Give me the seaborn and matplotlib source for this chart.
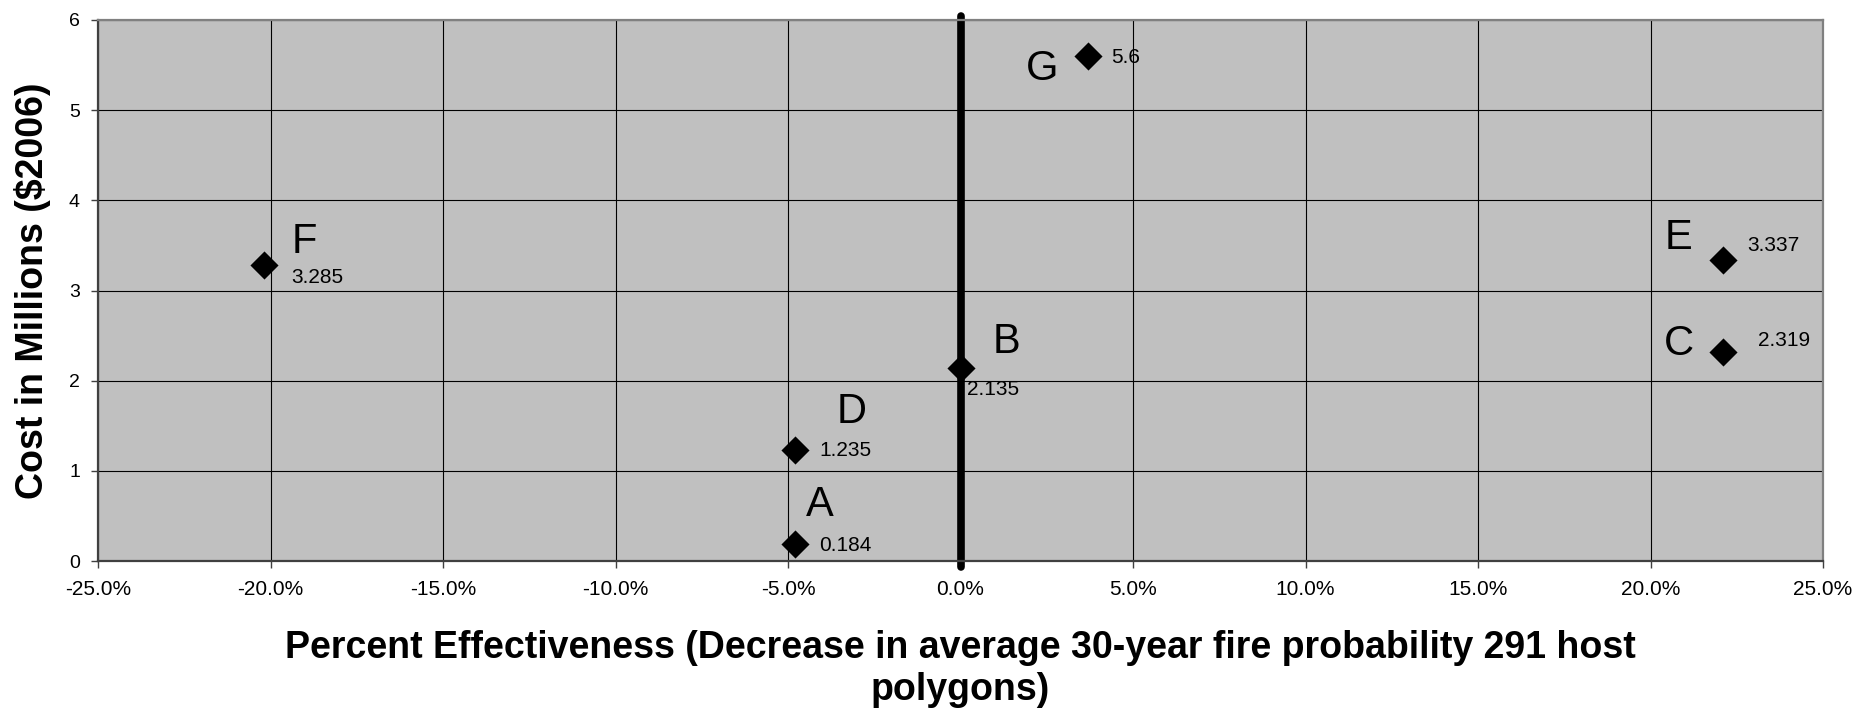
import matplotlib
matplotlib.use("Agg")
import matplotlib.pyplot as plt
import seaborn as sns
import pandas as pd
from matplotlib.ticker import FuncFormatter, MultipleLocator

# ---- data ----
labels = ["A", "B", "C", "D", "E", "F", "G"]
effectiveness = [-4.8, 0.0, 22.1, -4.8, 22.1, -20.2, 3.7]   # percent
cost = [0.184, 2.135, 2.319, 1.235, 3.337, 3.285, 5.6]       # millions $2006
value_texts = ["0.184", "2.135", "2.319", "1.235", "3.337", "3.285", "5.6"]

x_ticks = [-25, -20, -15, -10, -5, 0, 5, 10, 15, 20, 25]
y_ticks = [0, 1, 2, 3, 4, 5, 6]

# ---- label placement (pixel offsets, style only) ----
letter_off = {"A": (11, 28, "left"), "B": (32, 15, "left"), "C": (-29, -3, "right"),
              "D": (42, 27, "left"), "E": (-31, 11, "right"), "F": (28, 12, "left"),
              "G": (-30, -24, "right")}
value_off = {"A": (24, -7), "B": (6, -27), "C": (35, 6), "D": (24, -6),
             "E": (24, 9), "F": (28, -18), "G": (23, -7)}

df = pd.DataFrame({"label": labels, "eff": effectiveness, "cost": cost, "txt": value_texts})

sns.set_theme(style="white")
plt.rcParams["font.family"] = ["Liberation Sans", "DejaVu Sans"]
plt.rcParams["text.color"] = "black"
plt.rcParams["axes.labelcolor"] = "black"
plt.rcParams["xtick.color"] = "black"
plt.rcParams["ytick.color"] = "black"

fig = plt.figure(figsize=(18.6, 7.13), dpi=100)
ax = fig.add_axes([98 / 1860, 1 - 561 / 713, (1823 - 98) / 1860, (561 - 20) / 713])
ax.set_facecolor("#C0C0C0")

ax.set_xlim(x_ticks[0], x_ticks[-1])
ax.set_ylim(y_ticks[0], y_ticks[-1])
ax.xaxis.set_major_locator(MultipleLocator(5))
ax.yaxis.set_major_locator(MultipleLocator(1))
ax.xaxis.set_major_formatter(FuncFormatter(lambda v, p: f"{v:.1f}%"))
ax.yaxis.set_major_formatter(FuncFormatter(lambda v, p: f"{v:g}"))

ax.grid(True, color="#000000", linewidth=0.8)
ax.set_axisbelow(True)

# thick reference line at zero effectiveness
ax.axvline(0, ymin=-0.012, ymax=1.008, color="black", linewidth=5.5, clip_on=False, zorder=2)

sns.scatterplot(data=df, x="eff", y="cost", marker="D", s=205, color="black",
                linewidth=0, ax=ax, zorder=3, legend=False)

for _, r in df.iterrows():
    dx, dy, ha = letter_off[r["label"]]
    ax.annotate(r["label"], xy=(r["eff"], r["cost"]), xytext=(dx, dy),
                textcoords="offset pixels", ha=ha, va="baseline", fontsize=30,
                color="black", zorder=4)
    vx, vy = value_off[r["label"]]
    ax.annotate(r["txt"], xy=(r["eff"], r["cost"]), xytext=(vx, vy),
                textcoords="offset pixels", ha="left", va="baseline", fontsize=15,
                color="black", zorder=4)

for side in ["left", "bottom"]:
    ax.spines[side].set_color("#404040")
    ax.spines[side].set_linewidth(1.6)
for side in ["top", "right"]:
    ax.spines[side].set_color("#808080")
    ax.spines[side].set_linewidth(1.6)

ax.tick_params(axis="x", direction="out", length=5, width=1, color="#404040",
               labelcolor="black", labelsize=15, pad=9, bottom=True)
ax.tick_params(axis="y", direction="out", length=5, width=1, color="#404040",
               labelcolor="black", labelsize=14, pad=8, left=True)

ax.set_xlabel("Percent Effectiveness (Decrease in average 30-year fire probability 291 host\npolygons)",
              fontsize=27, fontweight="bold", linespacing=1.2, va="top", color="black")
ax.xaxis.set_label_coords(0.5, -0.128)
ax.set_ylabel("Cost in Millions ($2006)", fontsize=27, fontweight="bold", color="black")
ax.yaxis.set_label_coords(-0.027, 0.5)

fig.savefig("out.png", dpi=100, facecolor="white")
